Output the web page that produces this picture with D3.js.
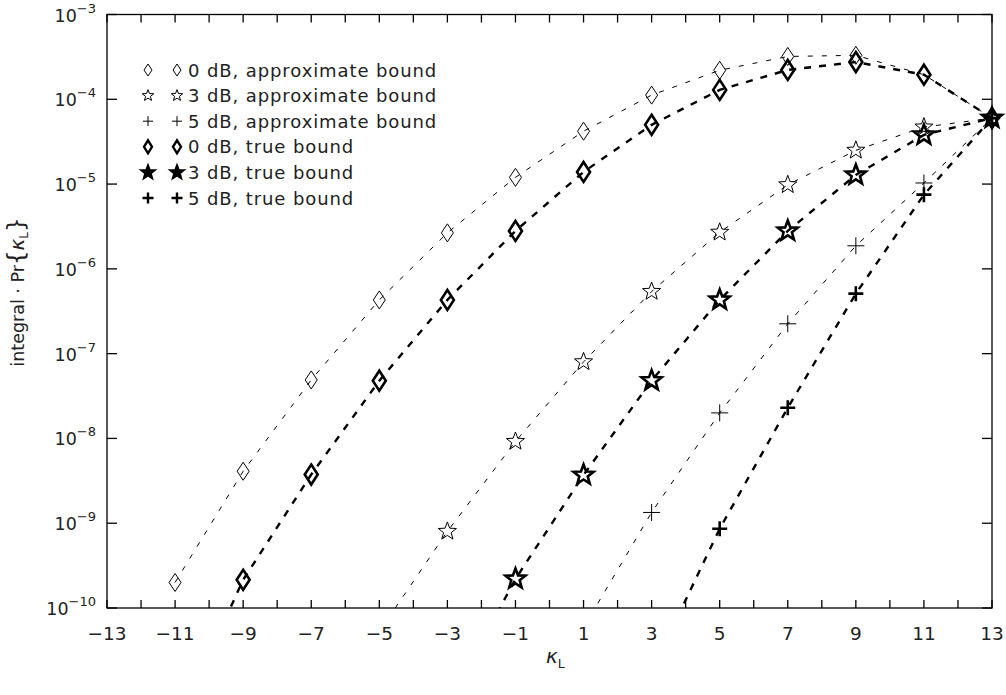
<!DOCTYPE html>
<html>
<head>
<meta charset="utf-8">
<script src="https://cdn.jsdelivr.net/npm/d3@7"></script>
<style>
  html, body { margin: 0; padding: 0; background: #fff; }
  svg { display: block; }
  text { font-family: "DejaVu Sans", sans-serif; fill: #222; }
</style>
</head>
<body>
<svg id="chart" width="1006" height="695"></svg>
<script>
// kappa_L values (odd), first entry of some series lies below the axis and gets clipped
const kappa = [-11, -9, -7, -5, -3, -1, 1, 3, 5, 7, 9, 11, 13]

const approx0dB = [2.0e-10, 4.1e-9, 4.9e-8, 4.3e-7, 2.66e-6, 1.2e-5, 4.2e-5, 1.12e-4, 2.2e-4, 3.2e-4, 3.3e-4, 1.95e-4, 6.0e-5]
const true0dB   = [3.7e-12, 2.15e-10, 3.75e-9, 4.8e-8, 4.3e-7, 2.8e-6, 1.39e-5, 5.0e-5, 1.29e-4, 2.22e-4, 2.75e-4, 1.95e-4, 6.0e-5]
const approx3dB = [null, null, null, 5.3e-11, 8.0e-10, 9.2e-9, 8.0e-8, 5.4e-7, 2.7e-6, 9.8e-6, 2.5e-5, 4.7e-5, 6.0e-5]
const true3dB   = [null, null, null, null, 7.0e-12, 2.2e-10, 3.7e-9, 4.8e-8, 4.3e-7, 2.8e-6, 1.28e-5, 3.8e-5, 6.0e-5]
const approx5dB = [null, null, null, null, null, null, 5.9e-11, 1.34e-9, 2.0e-8, 2.25e-7, 1.87e-6, 1.03e-5, 6.0e-5]
const true5dB   = [null, null, null, null, null, null, null, 1.8e-11, 8.6e-10, 2.3e-8, 5.1e-7, 7.5e-6, 6.0e-5]

const xTicks = d3.range(-13, 14, 1)
const xLabels = d3.range(-13, 14, 2)
const yDecades = [-10, -9, -8, -7, -6, -5, -4, -3]

const legendLabels = [
  '0 dB, approximate bound',
  '3 dB, approximate bound',
  '5 dB, approximate bound',
  '0 dB, true bound',
  '3 dB, true bound',
  '5 dB, true bound'
]

const pLeft = 107, pRight = 992, pTop = 14.5, pBottom = 608

const x = d3.scaleLinear().domain([-13, 13]).range([pLeft, pRight])
const y = d3.scaleLog().domain([1e-10, 1e-3]).range([pBottom, pTop])

const svg = d3.select('#chart')

svg.append('defs').append('clipPath').attr('id', 'plotclip')
  .append('rect')
    .attr('x', pLeft).attr('y', pTop)
    .attr('width', pRight - pLeft).attr('height', pBottom - pTop)

// custom symbol shapes
function diamondType (hw, hh) {
  return {
    draw (ctx) {
      ctx.moveTo(0, -hh); ctx.lineTo(hw, 0); ctx.lineTo(0, hh); ctx.lineTo(-hw, 0); ctx.closePath()
    }
  }
}
function starType (R) {
  const r = R * 0.42
  return {
    draw (ctx) {
      for (let i = 0; i < 10; i++) {
        const a = -Math.PI / 2 + i * Math.PI / 5
        const rr = i % 2 === 0 ? R : r
        const px = rr * Math.cos(a), py = rr * Math.sin(a)
        if (i === 0) ctx.moveTo(px, py); else ctx.lineTo(px, py)
      }
      ctx.closePath()
    }
  }
}
function plusType (h) {
  return {
    draw (ctx) {
      ctx.moveTo(-h, 0); ctx.lineTo(h, 0); ctx.moveTo(0, -h); ctx.lineTo(0, h)
    }
  }
}

const series = [
  { values: approx0dB, thick: false, shape: diamondType(6, 9),   small: diamondType(4, 6) },
  { values: approx3dB, thick: false, shape: starType(9.5),      small: starType(6) },
  { values: approx5dB, thick: false, shape: plusType(8.5),      small: plusType(5) },
  { values: true0dB,   thick: true,  shape: diamondType(6.5, 10), small: diamondType(4, 6.5) },
  { values: true3dB,   thick: true,  shape: starType(10.5),     small: starType(6.5), fillSmall: true },
  { values: true5dB,   thick: true,  shape: plusType(7.5),      small: plusType(5.5) }
]

// axes frame
const axisG = svg.append('g').attr('stroke', '#000').attr('stroke-width', 1.3)
axisG.append('rect')
  .attr('x', pLeft).attr('y', pTop)
  .attr('width', pRight - pLeft).attr('height', pBottom - pTop)
  .attr('fill', 'none')

axisG.append('g').selectAll('line').data(xTicks).join('line')
  .attr('x1', d => x(d)).attr('x2', d => x(d))
  .attr('y1', pBottom).attr('y2', pBottom - 8)
axisG.append('g').selectAll('line').data(xTicks).join('line')
  .attr('x1', d => x(d)).attr('x2', d => x(d))
  .attr('y1', pTop).attr('y2', pTop + 8)
axisG.append('g').selectAll('line').data(yDecades).join('line')
  .attr('x1', pLeft).attr('x2', pLeft + 10)
  .attr('y1', d => y(Math.pow(10, d))).attr('y2', d => y(Math.pow(10, d)))
axisG.append('g').selectAll('line').data(yDecades).join('line')
  .attr('x1', pRight).attr('x2', pRight - 10)
  .attr('y1', d => y(Math.pow(10, d))).attr('y2', d => y(Math.pow(10, d)))

// tick labels
svg.append('g').selectAll('text').data(xLabels).join('text')
  .attr('x', d => x(d)).attr('y', 640)
  .attr('text-anchor', 'middle')
  .attr('font-size', 18.5)
  .text(d => d < 0 ? '\u2212' + Math.abs(d) : d)

const yl = svg.append('g').selectAll('text').data(yDecades).join('text')
  .attr('x', 96).attr('y', d => y(Math.pow(10, d)) + 7)
  .attr('text-anchor', 'end')
  .attr('font-size', 17.5)
yl.append('tspan').text('10')
yl.append('tspan').attr('dy', -9).attr('font-size', 13).text(d => '\u2212' + Math.abs(d))

// axis titles
const xt = svg.append('text').attr('x', 546).attr('y', 663).attr('font-size', 20)
xt.append('tspan').attr('font-style', 'italic').text('\u03ba')
xt.append('tspan').attr('dy', 5).attr('font-size', 12.5).text('L')

const yt = svg.append('text')
  .attr('transform', 'translate(24,292) rotate(-90)')
  .attr('text-anchor', 'middle')
  .attr('font-size', 17.5)
yt.append('tspan').text('integral \u00b7 Pr')
yt.append('tspan').attr('font-size', 23).text('{')
yt.append('tspan').attr('font-style', 'italic').attr('font-size', 20).text('\u03ba')
yt.append('tspan').attr('dy', 4).attr('font-size', 12).text('L')
yt.append('tspan').attr('dy', -4).attr('font-size', 23).text('}')

// lines
const line = d3.line()
  .defined(d => d.v != null)
  .x(d => x(d.k))
  .y(d => y(d.v))

const plot = svg.append('g').attr('clip-path', 'url(#plotclip)')

series.forEach(s => {
  const pts = kappa.map((k, i) => ({ k, v: s.values[i] }))
  plot.append('path')
    .datum(pts)
    .attr('fill', 'none')
    .attr('stroke', '#000')
    .attr('stroke-width', s.thick ? 2.4 : 1)
    .attr('stroke-dasharray', s.thick ? '7,8' : '5,9')
    .attr('d', line)
})

series.forEach(s => {
  const pts = kappa.map((k, i) => ({ k, v: s.values[i] }))
    .filter(d => d.v != null && d.v >= 1e-10)
  svg.append('g').selectAll('path').data(pts).join('path')
    .attr('transform', d => `translate(${x(d.k)},${y(d.v)})`)
    .attr('d', d3.symbol().type(s.shape))
    .attr('fill', 'none')
    .attr('stroke', '#000')
    .attr('stroke-width', s.thick ? 2.6 : 1)
    .attr('stroke-linejoin', 'miter')
})

// legend
const legend = svg.append('g')
series.forEach((s, i) => {
  const ly = 70 + i * 25.6
  ;[148, 177].forEach(lx => {
    legend.append('path')
      .attr('transform', `translate(${lx},${ly})`)
      .attr('d', d3.symbol().type(s.small)())
      .attr('fill', s.fillSmall ? '#000' : 'none')
      .attr('stroke', '#000')
      .attr('stroke-width', s.thick ? 2.4 : 1)
  })
  legend.append('text')
    .attr('x', 188).attr('y', ly + 6.5)
    .attr('font-size', 18)
    .attr('letter-spacing', 0.9)
    .text(legendLabels[i])
})
</script>
</body>
</html>
